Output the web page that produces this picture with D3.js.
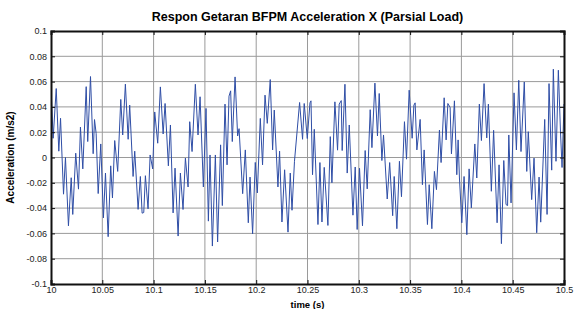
<!DOCTYPE html>
<html>
<head>
<meta charset="utf-8">
<script src="https://cdn.jsdelivr.net/npm/d3@7"></script>
<style>
  body { margin: 0; background: #fff; }
  text { font-family: "Liberation Sans", Arial, sans-serif; }
</style>
</head>
<body>
<svg id="chart" width="579" height="309"></svg>
<script>
// data (vertex times and accelerations)
const times = [
  10.0005, 10.0021, 10.0051, 10.0076, 10.0093, 10.0122, 10.0141, 10.0170, 10.0197, 10.0212,
  10.0241, 10.0268, 10.0287, 10.0310, 10.0343, 10.0358, 10.0385, 10.0411, 10.0424, 10.0440,
  10.0460, 10.0485, 10.0511, 10.0531, 10.0557, 10.0582, 10.0599, 10.0621, 10.0650, 10.0680,
  10.0699, 10.0725, 10.0752, 10.0767, 10.0800, 10.0816, 10.0849, 10.0871, 10.0888, 10.0904,
  10.0920, 10.0946, 10.0966, 10.0991, 10.1011, 10.1040, 10.1066, 10.1093, 10.1112, 10.1144,
  10.1164, 10.1190, 10.1209, 10.1239, 10.1261, 10.1287, 10.1310, 10.1336, 10.1352, 10.1375,
  10.1407, 10.1433, 10.1453, 10.1485, 10.1511, 10.1534, 10.1550, 10.1573, 10.1602, 10.1624,
  10.1653, 10.1670, 10.1696, 10.1716, 10.1735, 10.1751, 10.1767, 10.1794, 10.1819, 10.1833,
  10.1868, 10.1894, 10.1923, 10.1940, 10.1965, 10.1991, 10.2011, 10.2040, 10.2062, 10.2086,
  10.2108, 10.2137, 10.2160, 10.2176, 10.2212, 10.2228, 10.2251, 10.2277, 10.2310, 10.2332,
  10.2349, 10.2373, 10.2423, 10.2452, 10.2468, 10.2498, 10.2524, 10.2534, 10.2549, 10.2566,
  10.2602, 10.2621, 10.2641, 10.2663, 10.2699, 10.2722, 10.2738, 10.2767, 10.2793, 10.2809,
  10.2829, 10.2838, 10.2865, 10.2887, 10.2907, 10.2943, 10.2965, 10.2984, 10.3007, 10.3036,
  10.3062, 10.3082, 10.3111, 10.3128, 10.3157, 10.3182, 10.3199, 10.3225, 10.3241, 10.3277,
  10.3301, 10.3330, 10.3345, 10.3371, 10.3396, 10.3416, 10.3445, 10.3465, 10.3491, 10.3520,
  10.3537, 10.3549, 10.3566, 10.3598, 10.3620, 10.3637, 10.3669, 10.3686, 10.3712, 10.3737,
  10.3757, 10.3786, 10.3802, 10.3832, 10.3851, 10.3868, 10.3890, 10.3903, 10.3932, 10.3955,
  10.3968, 10.3981, 10.4004, 10.4026, 10.4053, 10.4075, 10.4097, 10.4131, 10.4150, 10.4175,
  10.4195, 10.4221, 10.4247, 10.4263, 10.4292, 10.4314, 10.4348, 10.4367, 10.4390, 10.4413,
  10.4435, 10.4450, 10.4462, 10.4484, 10.4513, 10.4536, 10.4559, 10.4581, 10.4613, 10.4637,
  10.4652, 10.4685, 10.4708, 10.4734, 10.4757, 10.4773, 10.4812, 10.4835, 10.4854, 10.4880,
  10.4896, 10.4922, 10.4945, 10.4966, 10.4981, 10.5000
];
const accel = [
  0.0466, 0.0152, 0.0545, 0.0050, 0.0310, -0.0290, 0.0000, -0.0540, -0.0160, -0.0450,
  0.0034, -0.0250, 0.0240, -0.0090, 0.0560, 0.0126, 0.0640, 0.0030, 0.0300, 0.0190,
  -0.0285, 0.0107, -0.0477, -0.0123, -0.0626, -0.0066, -0.0320, 0.0134, -0.0110, 0.0459,
  0.0178, 0.0580, 0.0144, 0.0414, -0.0150, 0.0050, -0.0410, -0.0150, -0.0440, -0.0435,
  -0.0144, -0.0406, 0.0020, -0.0090, 0.0360, 0.0113, 0.0558, 0.0186, 0.0427, -0.0066,
  0.0257, -0.0438, -0.0084, -0.0621, -0.0123, -0.0411, -0.0005, -0.0233, 0.0283, 0.0047,
  0.0579, 0.0178, 0.0480, -0.0233, 0.0388, -0.0503, 0.0020, -0.0700, 0.0020, -0.0668,
  0.0100, -0.0380, 0.0422, -0.0058, 0.0485, 0.0527, 0.0126, 0.0637, 0.0170, 0.0228,
  -0.0286, 0.0060, -0.0516, -0.0155, -0.0603, -0.0039, -0.0280, 0.0309, -0.0058, 0.0493,
  0.0270, 0.0616, 0.0060, 0.0375, -0.0233, 0.0050, -0.0510, -0.0097, -0.0590, -0.0123,
  -0.0417, -0.0030, 0.0435, 0.0144, 0.0427, 0.0150, 0.0432, 0.0448, -0.0136, 0.0223,
  -0.0530, -0.0040, -0.0510, -0.0078, -0.0537, 0.0165, -0.0200, 0.0440, 0.0058, 0.0422,
  0.0450, 0.0055, 0.0579, -0.0123, 0.0257, -0.0456, -0.0075, -0.0569, -0.0085, -0.0540,
  0.0055, -0.0248, 0.0378, 0.0078, 0.0588, 0.0170, 0.0506, -0.0024, 0.0178, -0.0328,
  -0.0040, -0.0460, -0.0150, -0.0563, -0.0030, -0.0310, 0.0283, -0.0013, 0.0532, 0.0152,
  0.0414, 0.0432, 0.0060, 0.0301, -0.0215, 0.0060, -0.0530, -0.0215, -0.0563, -0.0110,
  -0.0254, 0.0217, -0.0040, 0.0472, 0.0139, 0.0427, 0.0396, 0.0029, 0.0448, -0.0136,
  0.0139, -0.0162, -0.0516, -0.0150, -0.0610, -0.0090, -0.0398, 0.0107, -0.0162, 0.0422,
  0.0134, 0.0584, 0.0155, 0.0422, -0.0267, 0.0215, -0.0516, -0.0058, -0.0681, -0.0024,
  -0.0372, -0.0380, 0.0178, -0.0359, 0.0511, 0.0060, 0.0610, 0.0047, 0.0597, -0.0110,
  0.0204, -0.0333, -0.0005, -0.0595, -0.0155, -0.0511, 0.0301, -0.0450, 0.0584, -0.0100,
  0.0698, -0.0030, 0.0690, 0.0200, -0.0079, 0.0423
];
const xTicks = [10, 10.05, 10.1, 10.15, 10.2, 10.25, 10.3, 10.35, 10.4, 10.45, 10.5];
const xTickLabels = ["10", "10.05", "10.1", "10.15", "10.2", "10.25", "10.3", "10.35", "10.4", "10.45", "10.5"];
const yTicks = [-0.1, -0.08, -0.06, -0.04, -0.02, 0, 0.02, 0.04, 0.06, 0.08, 0.1];
const yTickLabels = ["-0.1", "-0.08", "-0.06", "-0.04", "-0.02", "0", "0.02", "0.04", "0.06", "0.08", "0.1"];

const margin = { left: 51, right: 15, top: 31, bottom: 25 };
const W = 579, H = 309;
const iw = W - margin.left - margin.right;
const ih = H - margin.top - margin.bottom;

const svg = d3.select('#chart');
const g = svg.append('g').attr('transform', `translate(${margin.left},${margin.top})`);

const x = d3.scaleLinear().domain([10, 10.5]).range([0, iw]);
const y = d3.scaleLinear().domain([-0.1, 0.1]).range([ih, 0]);

// grid
g.append('g')
  .selectAll('line')
  .data(xTicks.slice(1, -1))
  .join('line')
  .attr('x1', d => x(d)).attr('x2', d => x(d))
  .attr('y1', 0).attr('y2', ih)
  .attr('stroke', '#9a9a9a').attr('stroke-width', 1);
g.append('g')
  .selectAll('line')
  .data(yTicks.slice(1, -1))
  .join('line')
  .attr('x1', 0).attr('x2', iw)
  .attr('y1', d => y(d)).attr('y2', d => y(d))
  .attr('stroke', '#9a9a9a').attr('stroke-width', 1);

// signal
const pts = times.map((t, i) => [t, accel[i]]);
const line = d3.line().x(d => x(d[0])).y(d => y(d[1]));
g.append('path')
  .datum(pts)
  .attr('d', line)
  .attr('fill', 'none')
  .attr('stroke', '#2f4ea6')
  .attr('stroke-width', 1);

// axes (ticks pointing inside, box on all sides)
const xAxis = d3.axisBottom(x).tickValues(xTicks).tickSize(-4).tickPadding(3)
  .tickFormat((d, i) => xTickLabels[i]);
const yAxis = d3.axisLeft(y).tickValues(yTicks).tickSize(-4).tickPadding(4)
  .tickFormat((d, i) => yTickLabels[i]);

const gx = g.append('g').attr('transform', `translate(0,${ih})`).call(xAxis);
const gy = g.append('g').call(yAxis);
g.append('g').call(d3.axisTop(x).tickValues(xTicks).tickSize(-4).tickFormat(''));
g.append('g').attr('transform', `translate(${iw},0)`).call(d3.axisRight(y).tickValues(yTicks).tickSize(-4).tickFormat(''));

g.selectAll('.domain').attr('stroke', '#111').attr('stroke-width', 2);
g.selectAll('.tick line').attr('stroke', '#111');
gx.selectAll('text').attr('font-size', 9).attr('fill', '#222');
gy.selectAll('text').attr('font-size', 9).attr('fill', '#222');

// titles
svg.append('text')
  .attr('x', margin.left + iw / 2).attr('y', 21)
  .attr('text-anchor', 'middle')
  .attr('font-size', 12.5).attr('font-weight', 'bold')
  .text('Respon Getaran BFPM Acceleration X (Parsial Load)');
svg.append('text')
  .attr('x', margin.left + iw / 2).attr('y', 307.5)
  .attr('text-anchor', 'middle')
  .attr('font-size', 9.5).attr('font-weight', 'bold')
  .text('time (s)');
svg.append('text')
  .attr('transform', `translate(14,${margin.top + ih / 2}) rotate(-90)`)
  .attr('text-anchor', 'middle')
  .attr('font-size', 10).attr('font-weight', 'bold')
  .text('Acceleration (m/s2)');
</script>
</body>
</html>
